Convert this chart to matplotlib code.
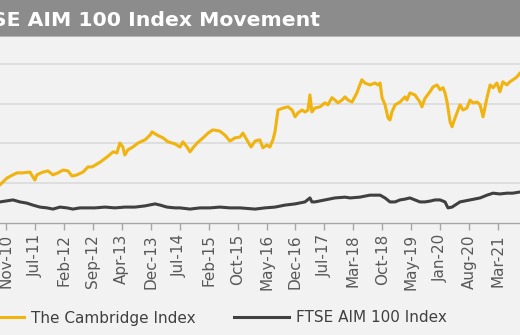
import pandas as pd
import matplotlib
matplotlib.use('Agg')
import matplotlib.pyplot as plt
from matplotlib.patches import Rectangle

# data (index units, gridlines every 100)
camb_dates = ['2010-08-30', '2010-10-08', '2010-11-30', '2011-01-15', '2011-02-15', '2011-04-01',
              '2011-05-25', '2011-07-02', '2011-07-17', '2011-09-02', '2011-10-10', '2011-11-18',
              '2011-12-26', '2012-02-03', '2012-03-12', '2012-04-12', '2012-05-20', '2012-07-05',
              '2012-08-13', '2012-09-13', '2012-11-14', '2013-01-06', '2013-02-22', '2013-03-22',
              '2013-04-14', '2013-05-07', '2013-05-22', '2013-06-15', '2013-07-23', '2013-08-31',
              '2013-10-24', '2013-12-02', '2013-12-17', '2014-01-25', '2014-03-11', '2014-04-18',
              '2014-06-11', '2014-07-19', '2014-08-11', '2014-09-11', '2014-10-04', '2014-10-27',
              '2014-11-27', '2015-01-12', '2015-02-20', '2015-03-28', '2015-05-21', '2015-06-29',
              '2015-08-06', '2015-09-14', '2015-10-22', '2015-11-14', '2015-12-23', '2016-01-15',
              '2016-02-15', '2016-03-23', '2016-04-15', '2016-05-16', '2016-06-08', '2016-07-01',
              '2016-07-17', '2016-08-09', '2016-09-17', '2016-10-25', '2016-11-25', '2016-12-18',
              '2017-01-10', '2017-02-10', '2017-03-04', '2017-03-27', '2017-04-11', '2017-04-26',
              '2017-05-19', '2017-06-27', '2017-08-04', '2017-08-27', '2017-09-27', '2017-10-20',
              '2017-11-12', '2017-12-13', '2018-01-05', '2018-01-28', '2018-02-28', '2018-04-06',
              '2018-05-14', '2018-06-06', '2018-07-15', '2018-08-23', '2018-09-15', '2018-10-01',
              '2018-10-16', '2018-11-08', '2018-12-01', '2018-12-16', '2018-12-31', '2019-01-24',
              '2019-03-03', '2019-04-10', '2019-04-25', '2019-05-18', '2019-06-25', '2019-08-03',
              '2019-08-18', '2019-09-10', '2019-10-19', '2019-11-11', '2019-12-12', '2020-01-04',
              '2020-01-27', '2020-02-11', '2020-02-27', '2020-03-21', '2020-04-05', '2020-04-28',
              '2020-05-21', '2020-06-05', '2020-06-28', '2020-07-28', '2020-08-21', '2020-09-13',
              '2020-10-14', '2020-11-06', '2020-11-29', '2020-12-29', '2021-01-22', '2021-02-14',
              '2021-03-15', '2021-04-07', '2021-04-30', '2021-05-31', '2021-06-23', '2021-07-16',
              '2021-08-15', '2021-09-08', '2021-10-01']
camb_values = [88, 96, 113, 121, 126, 126,
               128, 108, 121, 128, 131, 121,
               126, 133, 131, 118, 121, 128,
               141, 141, 153, 166, 179, 176,
               201, 191, 171, 184, 191, 201,
               209, 221, 229, 221, 214, 204,
               199, 191, 204, 191, 179, 189,
               201, 214, 226, 234, 231, 221,
               206, 214, 216, 226, 204, 191,
               206, 209, 189, 196, 191, 209,
               229, 284, 289, 292, 284, 267,
               277, 284, 279, 284, 322, 279,
               289, 292, 302, 297, 315, 309,
               302, 309, 317, 309, 304, 327,
               360, 352, 347, 352, 347, 352,
               315, 297, 264, 259, 279, 297,
               304, 317, 309, 327, 322, 304,
               292, 313, 330, 342, 347, 335,
               340, 327, 304, 254, 242, 264,
               284, 297, 284, 289, 309, 302,
               304, 297, 267, 315, 347, 340,
               352, 330, 355, 347, 355, 360,
               367, 377, 380]

aim_dates = ['2010-08-30', '2010-10-08', '2011-01-15', '2011-03-09', '2011-05-01', '2011-06-17',
             '2011-08-10', '2011-10-03', '2011-11-18', '2012-01-11', '2012-03-04', '2012-04-19',
             '2012-06-12', '2012-08-13', '2012-10-06', '2012-12-22', '2013-03-07', '2013-05-22',
             '2013-08-08', '2013-10-24', '2014-01-09', '2014-02-17', '2014-04-10', '2014-06-11',
             '2014-07-19', '2014-10-04', '2014-12-20', '2015-03-06', '2015-05-21', '2015-08-06',
             '2015-10-22', '2016-01-07', '2016-02-15', '2016-05-01', '2016-07-17', '2016-10-02',
             '2016-12-18', '2017-03-04', '2017-04-11', '2017-04-26', '2017-05-19', '2017-08-04',
             '2017-10-20', '2018-01-05', '2018-02-13', '2018-04-29', '2018-07-15', '2018-10-01',
             '2018-11-08', '2018-12-16', '2019-01-24', '2019-03-03', '2019-04-10', '2019-05-18',
             '2019-08-03', '2019-09-10', '2019-10-19', '2019-11-26', '2020-01-04', '2020-02-11',
             '2020-03-05', '2020-04-05', '2020-06-05', '2020-08-21', '2020-11-06', '2020-12-29',
             '2021-02-14', '2021-04-07', '2021-05-31', '2021-07-16', '2021-09-08', '2021-10-01']
aim_values = [50, 53, 58, 53, 50, 45,
              40, 38, 35, 40, 38, 35,
              38, 38, 38, 40, 38, 40,
              40, 43, 48, 45, 40, 38,
              38, 35, 38, 38, 40, 38,
              38, 36, 35, 38, 40, 45,
              48, 53, 63, 53, 53, 58,
              63, 65, 63, 65, 70, 70,
              63, 53, 53, 58, 60, 63,
              53, 53, 55, 58, 58, 53,
              38, 40, 53, 58, 63, 70,
              75, 73, 75, 75, 78, 78]

tick_labels = ['Nov-10', 'Jul-11', 'Feb-12', 'Sep-12', 'Apr-13', 'Dec-13', 'Jul-14', 'Feb-15',
               'Oct-15', 'May-16', 'Dec-16', 'Jul-17', 'Mar-18', 'Oct-18', 'May-19', 'Jan-20',
               'Aug-20', 'Mar-21']

title = 'FTSE AIM 100 Index Movement'
W, H = 520, 335

fig = plt.figure(figsize=(W / 100, H / 100), dpi=100, facecolor='#f2f2f2')

# header bar
fig.patches.append(Rectangle((0, (H - 36) / H), 1, 36 / H, transform=fig.transFigure,
                             facecolor='#8c8c8c', edgecolor='none', zorder=0))
fig.patches.append(Rectangle((0, (H - 37) / H), 1, 1 / H, transform=fig.transFigure,
                             facecolor='#b5b5b5', edgecolor='none', zorder=0))
fig.text(-36 / W, (H - 26) / H, title, color='white', fontsize=14.7, fontweight='bold',
         family='DejaVu Sans', va='baseline', ha='left')

# axes runs past both edges of the picture
ax = fig.add_axes([-10 / W, (H - 223) / H, 540 / W, 183 / H])
ax.set_facecolor('#f2f2f2')

cd = pd.to_datetime(camb_dates)
ad = pd.to_datetime(aim_dates)
ax.plot(cd, camb_values, color='#f0b30f', lw=2.2, label='The Cambridge Index', zorder=3)
ax.plot(ad, aim_values, color='#404040', lw=2.2, label='FTSE AIM 100 Index', zorder=3)

ax.set_ylim(0, 460)
ax.set_yticks([100, 200, 300, 400])
ax.yaxis.grid(True, color='#d9d9d9', lw=1.1)
ax.set_axisbelow(True)
ax.tick_params(axis='y', left=False, labelleft=False)

tick_dates = pd.date_range('2010-11-23', periods=len(tick_labels), freq='222D')
ax.set_xticks(tick_dates, tick_labels, rotation=90)
ax.set_xlim(pd.Timestamp('2010-07-23'), pd.Timestamp('2021-11-24'))
ax.tick_params(axis='x', length=5, width=1, color='#a6a6a6', labelsize=11,
               labelcolor='#595959', pad=3)

for s in ['top', 'left', 'right']:
    ax.spines[s].set_visible(False)
ax.spines['bottom'].set_color('#a6a6a6')
ax.spines['bottom'].set_linewidth(1)

leg = ax.legend(loc='center', ncol=2, frameon=False, fontsize=11,
                bbox_to_anchor=(208 / W, 17 / H), bbox_transform=fig.transFigure,
                handlelength=3.6, handletextpad=0.46, columnspacing=2.5, borderaxespad=0)
for t in leg.get_texts():
    t.set_color('#404040')

fig.savefig('out.png', dpi=100, facecolor=fig.get_facecolor())
